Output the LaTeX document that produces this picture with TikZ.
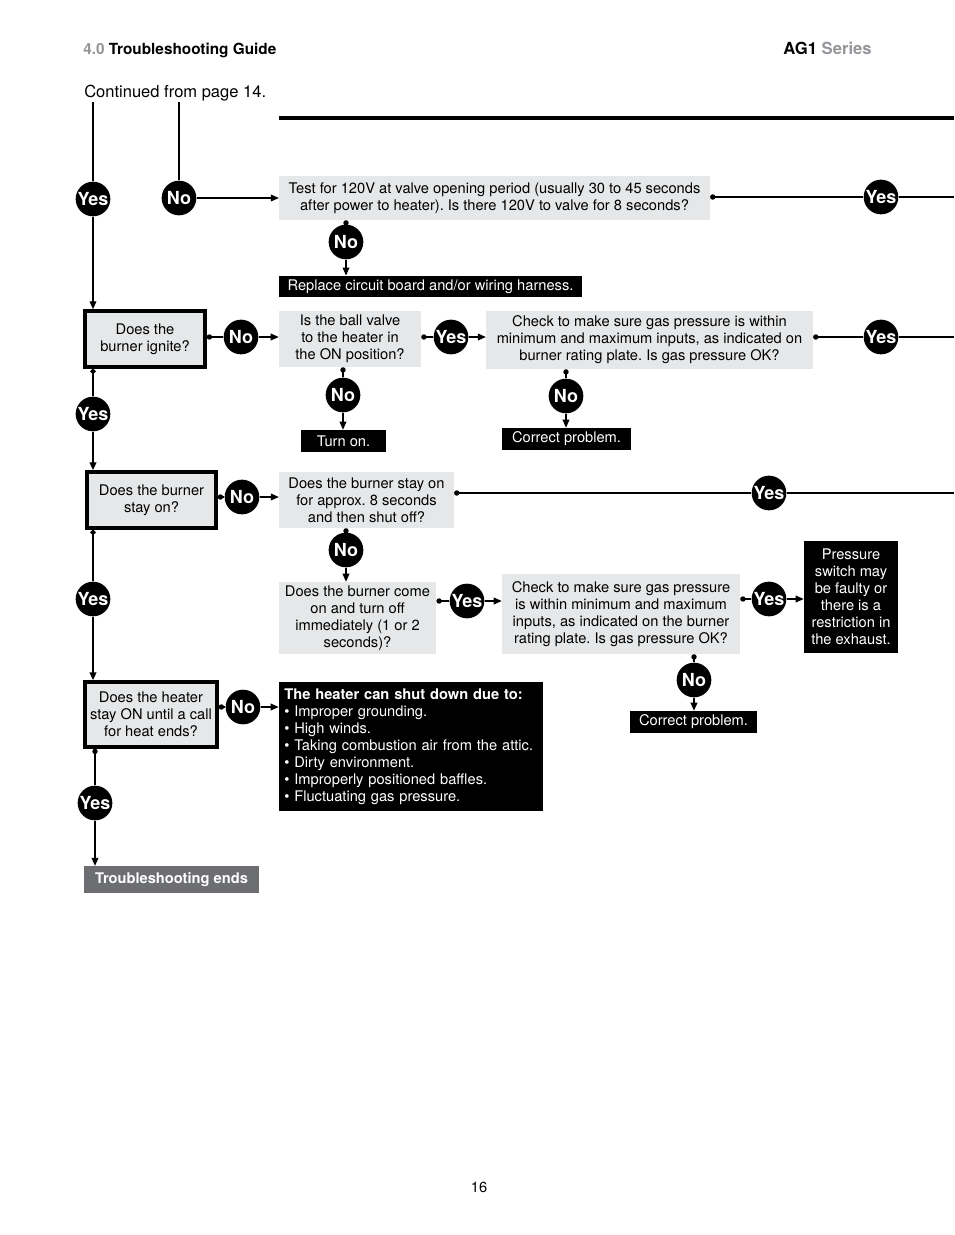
\documentclass[tikz,border=0pt]{standalone}
\usepackage{fontspec}
\setmainfont{TeX Gyre Heros}
\usetikzlibrary{arrows.meta}
\definecolor{boxgray}{HTML}{E6E7E8}
\definecolor{endgray}{HTML}{6D6E71}
\definecolor{headgray}{HTML}{939598}
\frenchspacing

\begin{document}
\begin{tikzpicture}[
        x=0.75pt, y=-0.75pt,
        font=\fontsize{11}{12.75}\selectfont,
        qbox/.style={fill=boxgray, align=center, inner sep=0pt},
        dbox/.style={qbox, draw, line width=2.6pt},
        abox/.style={fill=black, text=white, align=center, inner sep=0pt},
        yn/.style={circle, fill=black, text=white, minimum size=26pt, inner sep=0pt, font=\fontsize{13.5}{14}\selectfont\bfseries},
        con/.style={line width=1pt},
        dot/.style={con, {Circle[length=4pt]}-},
        >={Triangle[length=6pt,width=5pt]}
    ]
        \useasboundingbox (0,0) rectangle (954,1235);

        % page head
        \node[anchor=base west, inner sep=0pt, font=\fontsize{11.5}{13}\selectfont\bfseries] (head) at (83,54) {\textcolor{headgray}{4.0} Troubleshooting Guide};
        \node[anchor=base east, inner sep=0pt, font=\fontsize{12.5}{14}\selectfont\bfseries] (series) at (872,54) {AG1 \textcolor{headgray}{Series}};
        \node[anchor=base west, inner sep=0pt, font=\fontsize{12.4}{14}\selectfont] (cont) at (84,97) {Continued from page 14.};
        \node[anchor=base, inner sep=0pt, font=\fontsize{11}{13}\selectfont] (page) at (479,1192) {16};
        \draw[line width=3pt] (279,118) -- (954,118);

        % boxes
        \node[qbox, minimum width=323pt, minimum height=33pt] (q120) at (494.5,198) {Test for 120V at valve opening period (usually 30 to 45 seconds\\after power to heater). Is there 120V to valve for 8 seconds?};
        \node[abox, minimum width=227pt, minimum height=16pt] (repl) at (430.5,286.5) {Replace circuit board and/or wiring harness.};
        \node[dbox, minimum width=90pt, minimum height=42pt] (ignite) at (145,339) {Does the\\burner ignite?};
        \node[qbox, minimum width=106.5pt, minimum height=42pt] (valve) at (350,339) {Is the ball valve\\to the heater in\\the ON position?};
        \node[qbox, minimum width=245pt, minimum height=43.5pt] (gas1) at (649.5,340) {Check to make sure gas pressure is within\\minimum and maximum inputs, as indicated on\\burner rating plate. Is gas pressure OK?};
        \node[abox, minimum width=64pt, minimum height=16.5pt] (turnon) at (343.5,441) {Turn on.};
        \node[abox, minimum width=97pt, minimum height=16.5pt] (fix1) at (566.5,439) {Correct problem.};
        \node[dbox, minimum width=96.75pt, minimum height=42pt] (stay) at (151.5,500) {Does the burner\\stay on?};
        \node[qbox, minimum width=131pt, minimum height=42pt] (eight) at (366.5,500) {Does the burner stay on\\for approx. 8 seconds\\and then shut off?};
        \node[qbox, minimum width=118pt, minimum height=54pt] (quick) at (357.5,618) {Does the burner come\\on and turn off\\immediately (1 or 2\\seconds)?};
        \node[qbox, minimum width=178.5pt, minimum height=60pt] (gas2) at (621,614) {Check to make sure gas pressure\\is within minimum and maximum\\inputs, as indicated on the burner\\rating plate. Is gas pressure OK?};
        \node[abox, minimum width=70.5pt, minimum height=84pt] (switch) at (851,597) {Pressure\\switch may\\be faulty or\\there is a\\restriction in\\the exhaust.};
        \node[abox, minimum width=95pt, minimum height=16.5pt] (fix2) at (693.5,722) {Correct problem.};
        \node[dbox, minimum width=99pt, minimum height=48.75pt] (callq) at (151,714.5) {Does the heater\\stay ON until a call\\for heat ends?};
        \node[abox, align=left, text width=190pt, inner xsep=4pt, minimum height=96.75pt] (causes) at (411,746.5) {\textbf{The heater can shut down due to:}\\
            \textbullet\ Improper grounding.\\
            \textbullet\ High winds.\\
            \textbullet\ Taking combustion air from the attic.\\
            \textbullet\ Dirty environment.\\
            \textbullet\ Improperly positioned baffles.\\
            \textbullet\ Fluctuating gas pressure.};
        \node[fill=endgray, text=white, font=\fontsize{11}{12.75}\selectfont\bfseries, minimum width=131pt, minimum height=20pt, inner sep=0pt] (ends) at (171.5,879.5) {Troubleshooting ends};

        % yes / no marks
        \node[yn] (yA) at (93,199) {Yes};
        \node[yn] (nA) at (179,198) {No};
        \node[yn] (nB) at (346,242) {No};
        \node[yn] (yB) at (881,197) {Yes};
        \node[yn] (nC) at (241,337) {No};
        \node[yn] (yC) at (451,337) {Yes};
        \node[yn] (yD) at (881,337) {Yes};
        \node[yn] (nD) at (343,395) {No};
        \node[yn] (nE) at (566,396) {No};
        \node[yn] (yE) at (93,414) {Yes};
        \node[yn] (nF) at (242,497) {No};
        \node[yn] (yF) at (769,493) {Yes};
        \node[yn] (nG) at (346,550) {No};
        \node[yn] (yG) at (467,601) {Yes};
        \node[yn] (yH) at (769,599) {Yes};
        \node[yn] (nH) at (694,680) {No};
        \node[yn] (yI) at (93,599) {Yes};
        \node[yn] (nI) at (243,707) {No};
        \node[yn] (yJ) at (95,803) {Yes};

        \coordinate (cY) at (93,102);
        \coordinate (cN) at (179,102);
        \coordinate (eB) at (954,197);
        \coordinate (eD) at (954,337);
        \coordinate (eF) at (954,493);

        % connectors
        \draw[con] (cY) -- (yA);
        \draw[con,->] (yA) -- (yA |- ignite.north);
        \draw[con, line width=1.5pt] (cN) -- (nA);
        \draw[con,->] (nA) -- (nA -| q120.west);
        \draw[dot] (yB -| q120.east) -- (yB);
        \draw[con] (yB) -- (eB);
        \draw[dot] (nB |- q120.south) -- (nB);
        \draw[con,->] (nB) -- (nB |- repl.north);

        \draw[dot] (nC -| ignite.east) -- (nC);
        \draw[con,->] (nC) -- (nC -| valve.west);
        \draw[dot] (yC -| valve.east) -- (yC);
        \draw[con,->] (yC) -- (yC -| gas1.west);
        \draw[dot] (yD -| gas1.east) -- (yD);
        \draw[con] (yD) -- (eD);
        \draw[dot] (nD |- valve.south) -- (nD);
        \draw[con,->] (nD) -- (nD |- turnon.north);
        \draw[dot] (nE |- gas1.south) -- (nE);
        \draw[con,->] (nE) -- (nE |- fix1.north);

        \draw[dot, line width=1.5pt] (yE |- ignite.south) -- (yE);
        \draw[con, line width=1.5pt, ->] (yE) -- (yE |- stay.north);
        \draw[dot] (nF -| stay.east) -- (nF);
        \draw[con,->] (nF) -- (nF -| eight.west);
        \draw[dot] (yF -| eight.east) -- (yF);
        \draw[con] (yF) -- (eF);
        \draw[dot] (nG |- eight.south) -- (nG);
        \draw[con,->] (nG) -- (nG |- quick.north);
        \draw[dot] (yG -| quick.east) -- (yG);
        \draw[con,->] (yG) -- (yG -| gas2.west);
        \draw[dot] (yH -| gas2.east) -- (yH);
        \draw[con,->] (yH) -- (yH -| switch.west);
        \draw[dot] (nH |- gas2.south) -- (nH);
        \draw[con,->] (nH) -- (nH |- fix2.north);

        \draw[dot, line width=1.5pt] (yI |- stay.south) -- (yI);
        \draw[con, line width=1.5pt, ->] (yI) -- (yI |- callq.north);
        \draw[dot] (nI -| callq.east) -- (nI);
        \draw[con,->] (nI) -- (nI -| causes.west);
        \draw[dot] (yJ |- callq.south) -- (yJ);
        \draw[con,->] (yJ) -- (yJ |- ends.north);
    \end{tikzpicture}
\end{document}
